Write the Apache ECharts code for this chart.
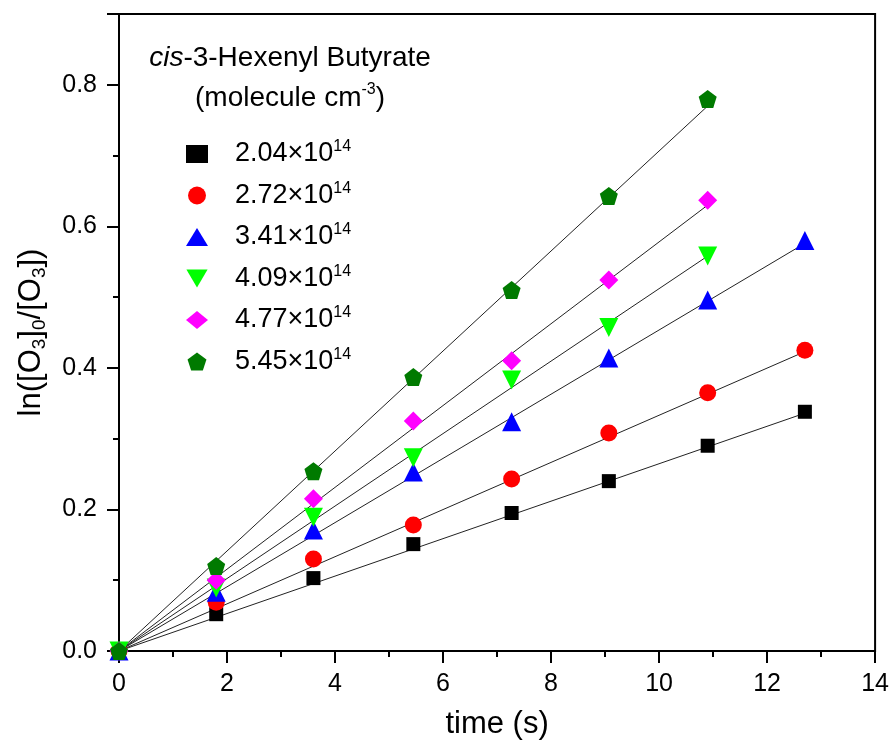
<!DOCTYPE html>
<html>
<head>
<meta charset="utf-8">
<script src="https://cdn.jsdelivr.net/npm/echarts@6/dist/echarts.min.js"></script>
<style>
  html, body { margin: 0; padding: 0; background: #fff; }
  #chart { width: 892px; height: 745px; }
</style>
</head>
<body>
<div id="chart"></div>
<script>
// concentrations (x10^14 molecule cm^-3)
var concLabels = ['2.04', '2.72', '3.41', '4.09', '4.77', '5.45'];
var colors = ['#000000', '#ff0000', '#0000ff', '#00ff00', '#ff00ff', '#007a00'];

// time points (s)
var times = [0, 1.8, 3.6, 5.45, 7.27, 9.07, 10.9, 12.7];

// ln([O3]0/[O3]) per concentration
var y204 = [0, 0.052, 0.103, 0.151, 0.195, 0.240, 0.290, 0.338];
var y272 = [0, 0.069, 0.130, 0.178, 0.243, 0.308, 0.365, 0.425];
var y341 = [0, 0.083, 0.171, 0.253, 0.324, 0.414, 0.496, 0.580];
var y409 = [0, 0.089, 0.189, 0.273, 0.383, 0.457, 0.558];
var y477 = [0, 0.100, 0.215, 0.325, 0.410, 0.524, 0.637];
var y545 = [0, 0.120, 0.254, 0.387, 0.510, 0.643, 0.780];

// end points of the linear fits (start at origin)
var fitEnds = [[12.7, 0.336], [12.7, 0.423], [12.7, 0.576], [10.9, 0.558], [10.9, 0.630], [10.9, 0.770]];

var allY = [y204, y272, y341, y409, y477, y545];
var symbols = ['rect', 'circle', 'triangle',
  'path://M-10,-8 L10,-8 L0,9 Z',
  'diamond',
  'path://M0,-10 L9.51,-3.09 L5.88,8.09 L-5.88,8.09 L-9.51,-3.09 Z'];
var sizes = [14, 17, 19, 19, 19, 18];

var series = [];
allY.forEach(function (ys, i) {
  series.push({
    type: 'line',
    data: [[0, 0], fitEnds[i]],
    symbol: 'none',
    silent: true,
    z: 1,
    lineStyle: { color: '#222', width: 1 }
  });
});
allY.forEach(function (ys, i) {
  series.push({
    name: concLabels[i],
    type: 'scatter',
    data: ys.map(function (v, j) { return [times[j], v]; }),
    symbol: symbols[i],
    symbolSize: sizes[i],
    z: 3,
    itemStyle: { color: colors[i], opacity: 1 }
  });
});

var font = '"Liberation Sans", Arial, sans-serif';
var chart = echarts.init(document.getElementById('chart'));
chart.setOption({
  animation: false,
  textStyle: { fontFamily: font },
  grid: {
    left: 119, right: 16, top: 14, bottom: 94,
    show: true, borderColor: '#000', borderWidth: 2
  },
  graphic: [
    {
      type: 'text', x: 290, y: 58,
      style: {
        text: '{i|cis}{n|-3-Hexenyl Butyrate}',
        align: 'center', verticalAlign: 'middle',
        rich: {
          i: { fontSize: 28, fontStyle: 'italic', fontFamily: font, fill: '#000' },
          n: { fontSize: 28, fontFamily: font, fill: '#000' }
        }
      }
    },
    {
      type: 'text', x: 290, y: 98,
      style: {
        text: '{n|(molecule cm}{s|-3}{n|)}',
        align: 'center', verticalAlign: 'middle',
        rich: {
          n: { fontSize: 28, lineHeight: 32, fontFamily: font, fill: '#000' },
          s: { fontSize: 16, lineHeight: 16, verticalAlign: 'top', fontFamily: font, fill: '#000' }
        }
      }
    }
  ],
  legend: {
    data: concLabels,
    orient: 'vertical',
    left: 181,
    top: 134,
    itemWidth: 22,
    itemHeight: 18,
    itemGap: 13,
    formatter: function (name) { return '{n|' + name + '×10}{s|14}'; },
    textStyle: {
      padding: [0, 0, 0, 22],
      rich: {
        n: { fontSize: 27, lineHeight: 30, fontFamily: font, color: '#000' },
        s: { fontSize: 16, lineHeight: 16, verticalAlign: 'top', fontFamily: font, color: '#000' }
      }
    }
  },
  xAxis: {
    type: 'value',
    min: 0, max: 14, interval: 2,
    name: 'time (s)',
    nameLocation: 'middle',
    nameGap: 58,
    nameTextStyle: { fontSize: 31, color: '#000', fontFamily: font },
    axisLine: { onZero: false, lineStyle: { color: '#000', width: 2 } },
    axisTick: { inside: false, length: 12, lineStyle: { color: '#000', width: 2 } },
    minorTick: { show: true, splitNumber: 2, length: 6, lineStyle: { color: '#000', width: 2 } },
    splitLine: { show: false },
    axisLabel: { fontSize: 25, color: '#000', margin: 21, fontFamily: font }
  },
  yAxis: {
    type: 'value',
    min: 0, max: 0.9, interval: 0.2,
    name: '{n|ln([O}{b|3}{n|]}{b|0}{n|/[O}{b|3}{n|])}',
    nameLocation: 'middle',
    nameGap: 70,
    nameTextStyle: {
      rich: {
        n: { fontSize: 31, lineHeight: 36, fontFamily: font, color: '#000' },
        b: { fontSize: 19, lineHeight: 20, verticalAlign: 'bottom', fontFamily: font, color: '#000' }
      }
    },
    axisLine: { onZero: false, lineStyle: { color: '#000', width: 2 } },
    axisTick: { inside: false, length: 12, lineStyle: { color: '#000', width: 2 } },
    minorTick: { show: true, splitNumber: 2, length: 6, lineStyle: { color: '#000', width: 2 } },
    splitLine: { show: false },
    axisLabel: {
      fontSize: 25, color: '#000', margin: 22, fontFamily: font,
      showMaxLabel: false,
      formatter: function (v) { return v.toFixed(1); }
    }
  },
  series: series
});
</script>
</body>
</html>
